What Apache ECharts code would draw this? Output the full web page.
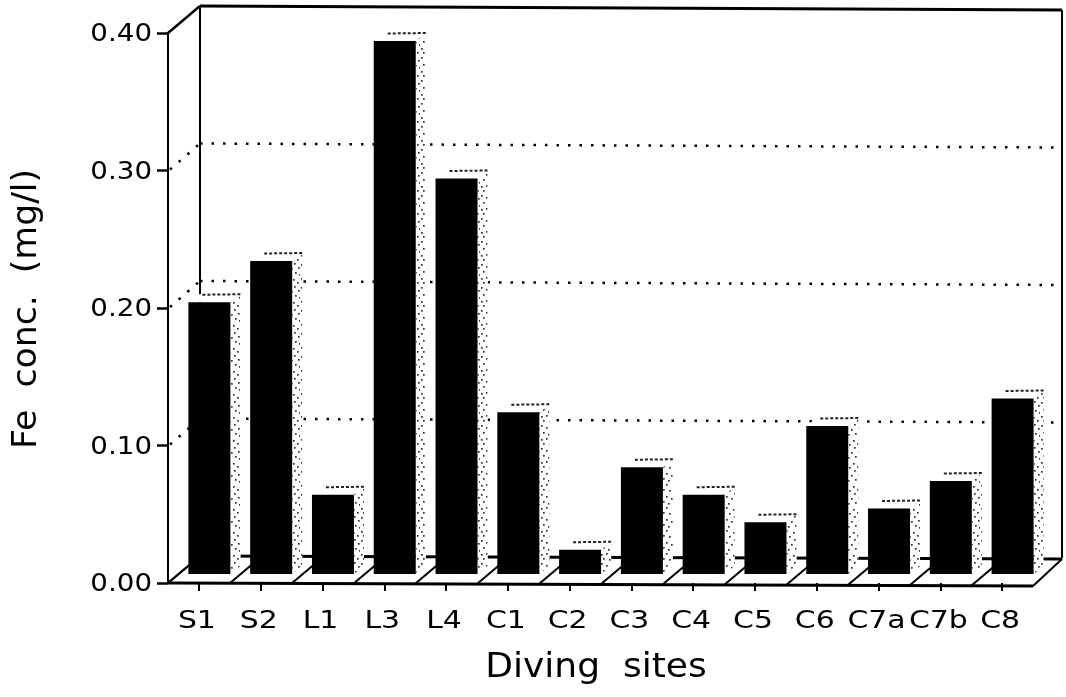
<!DOCTYPE html>
<html><head><meta charset="utf-8">
<style>html,body{margin:0;padding:0;background:#fff}#c{width:1066px;height:697px}</style>
<script src="https://cdn.jsdelivr.net/npm/echarts@6/dist/echarts.min.js"></script>
</head><body><div id="c"></div>
<script>
var categories = ['S1','S2','L1','L3','L4','C1','C2','C3','C4','C5','C6','C7a','C7b','C8'];
var feConc = [0.21,0.24,0.07,0.40,0.30,0.13,0.03,0.09,0.07,0.05,0.12,0.06,0.08,0.14];
var yTicks = [0,0.1,0.2,0.3,0.4];
var backGrid = [0.1,0.2,0.3];
var xTitle = 'Diving  sites';
var yTitle = 'Fe  conc.  (mg/l)';

var FONT = '"DejaVu Sans"';
var DX = 32, DY = -27, DXR = 29;

var tile = document.createElement('canvas');
tile.width = 20; tile.height = 23;
(function(){
  var g = tile.getContext('2d');
  g.fillStyle = '#fff'; g.fillRect(0,0,20,23);
  g.fillStyle = '#333';
  [[1,2],[6,1],[13,3],[17,6],[3,6],[9,7],[14,10],[1,11],[6,13],[18,14],[11,15],[3,18],[8,20],[15,19],[19,21]].forEach(function(p){ g.fillRect(p[0],p[1],1.7,1.7); });
})();

function line(x1,y1,x2,y2,w,dash,color){
  return {type:'line',shape:{x1:x1,y1:y1,x2:x2,y2:y2},style:{stroke:color||'#000',lineWidth:w,lineDash:dash||null,fill:null},silent:true};
}

var chart = echarts.init(document.getElementById('c'),null,{renderer:'canvas'});
chart.setOption({
  animation:false,
  backgroundColor:'#fff',
  grid:{left:168,right:33,top:33,bottom:114},
  xAxis:{type:'category',data:categories,axisLine:{show:false},axisTick:{show:true,alignWithLabel:true,length:8,lineStyle:{color:'#000',width:2}},axisLabel:{show:false},splitLine:{show:false}},
  yAxis:{type:'value',min:0,max:0.4,interval:0.1,axisLine:{show:true,lineStyle:{color:'#000',width:2}},axisTick:{show:true,length:11,lineStyle:{color:'#000',width:2.5}},axisLabel:{show:false},splitLine:{show:false}},
  series:[
    {type:'custom',z:1,coordinateSystem:'cartesian2d',data:[[0,0]],silent:true,encode:{x:0,y:1},
     renderItem:function(p,api){
       var c=p.coordSys,L=c.x,R=c.x+c.width,T=c.y,B=c.y+c.height;
       return {type:'group',children:[
         line(L,T,L+DX,T+DY,2.5),
         line(L+DX,T+DY,L+DX,B+DY,2),
         line(L+DX,T+DY,R+DXR,T+DY+4,3),
         line(R+DXR,T+DY+4,R+DXR,B+DY+2,2),
         line(L+DX,B+DY,R+DXR,B+DY+3,3),
         line(L,B,R,B+3,3),
         line(R,B+3,R+DXR,B+DY+3,2),
         line(L,B,L+DX,B+DY,2)
       ]};
     }},
    {type:'custom',z:2,coordinateSystem:'cartesian2d',data:backGrid.map(function(v){return [0,v];}),silent:true,encode:{x:0,y:1},
     renderItem:function(p,api){
       var c=p.coordSys,y=api.coord([0,api.value(1)])[1],L=c.x,R=c.x+c.width;
       return {type:'group',children:[
         line(L+2,y-1,L+DX,y+DY,2.5,[2.5,9]),
         line(L+DX,y+DY,R+DXR,y+DY+4,2.5,[2.5,9])
       ]};
     }},
    {type:'custom',z:3,coordinateSystem:'cartesian2d',data:categories.map(function(n,i){return [i,0];}),silent:true,encode:{x:0,y:1},
     renderItem:function(p,api){
       var c=p.coordSys,w=api.size([1,0])[0],x=api.coord([api.value(0),0])[0]-w/2,B=c.y+c.height;
       var f=(x-c.x)/c.width;
       return line(x,B+3*f,x+DX,B+3*f+DY,2);
     }},
    {type:'custom',name:'Fe conc.',z:4,coordinateSystem:'cartesian2d',
     data:feConc.map(function(v,i){return [i,v];}),encode:{x:0,y:1},
     renderItem:function(p,api){
       var pt=api.coord([api.value(0),api.value(1)]),z=api.coord([api.value(0),0]);
       var l=pt[0]-10.5,r=l+42,top=pt[1]+8,base=z[1]-9,sx=10,sy=-8;
       return {type:'group',children:[
         {type:'polygon',shape:{points:[[l,top],[l+sx,top+sy],[r+sx,top+sy],[r+sx,base+sy],[r,base],[r,top]]},style:{fill:'#fff',stroke:null}},
         {type:'polygon',shape:{points:[[r,top],[r+sx,top+sy],[r+sx,base+sy],[r,base]]},style:{fill:{image:tile,repeat:'repeat'},stroke:null}},
         line(l+sx+4,top+sy+0.5,r+sx,top+sy,2,[3,2],'#222'),
         {type:'rect',shape:{x:l,y:top,width:42,height:base-top},style:{fill:'#000',stroke:null}}
       ]};
     }},
    {type:'custom',z:5,coordinateSystem:'cartesian2d',data:categories.map(function(n,i){return [i,0];}),silent:true,encode:{x:0,y:1},
     renderItem:function(p,api){
       var i=api.value(0),pt=api.coord([i,0]);
       return {type:'text',x:pt[0]-2,y:pt[1]+39,scaleX:1.22,style:{text:categories[i],fontFamily:FONT,fontSize:24.5,fill:'#000',align:'center',verticalAlign:'middle'}};
     }},
    {type:'custom',z:5,coordinateSystem:'cartesian2d',data:yTicks.map(function(v){return [0,v];}),silent:true,encode:{x:0,y:1},
     renderItem:function(p,api){
       var v=api.value(1),y=api.coord([0,v])[1];
       return {type:'text',x:152,y:y+2,scaleX:1.13,style:{text:v.toFixed(2),fontFamily:FONT,fontSize:24.5,fill:'#000',align:'right',verticalAlign:'middle'}};
     }}
  ],
  graphic:[
    {type:'text',x:596,y:668,scaleX:1.06,style:{text:xTitle,fontFamily:FONT,fontSize:34,fill:'#000',align:'center',verticalAlign:'middle'}},
    {type:'text',x:27,y:309,rotation:Math.PI/2,scaleX:1.02,style:{text:yTitle,fontFamily:FONT,fontSize:34,fill:'#000',align:'center',verticalAlign:'middle'}}
  ]
});
</script></body></html>
